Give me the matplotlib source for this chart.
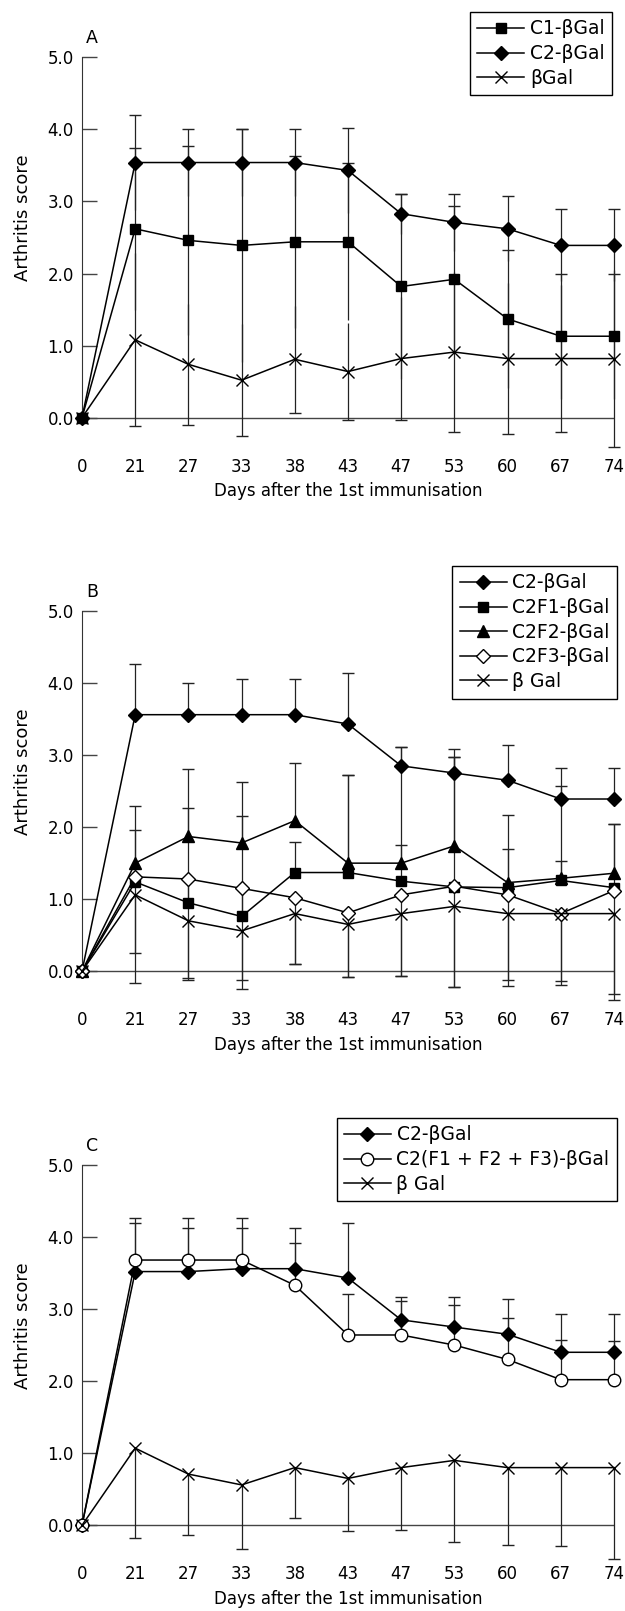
import matplotlib
matplotlib.use('Agg')
import matplotlib.pyplot as plt
import numpy as np

plt.rcParams['font.family'] = ['DejaVu Sans']

days = ['0', '21', '27', '33', '38', '43', '47', '53', '60', '67', '74']

# panel A
a_c1 = [0, 2.62, 2.46, 2.39, 2.44, 2.44, 1.82, 1.92, 1.37, 1.13, 1.13]
a_c1_sd = [0, 1.12, 1.31, 1.62, 1.19, 1.09, 1.29, 1.01, 0.96, 0.87, 0.87]
a_c2 = [0, 3.54, 3.54, 3.54, 3.54, 3.43, 2.83, 2.71, 2.62, 2.39, 2.39]
a_c2_sd = [0, 0.66, 0.46, 0.47, 0.47, 0.59, 0.28, 0.40, 0.45, 0.50, 0.50]
a_bgal = [0, 1.08, 0.74, 0.52, 0.81, 0.64, 0.82, 0.91, 0.82, 0.82, 0.82]
a_bgal_sd = [0, 1.20, 0.84, 0.78, 0.74, 0.67, 0.85, 1.11, 1.05, 1.02, 1.23]

# panel B
b_c2 = [0, 3.56, 3.56, 3.56, 3.56, 3.43, 2.85, 2.75, 2.65, 2.39, 2.39]
b_c2_sd = [0, 0.71, 0.44, 0.49, 0.49, 0.71, 0.26, 0.34, 0.49, 0.43, 0.43]
b_f1 = [0, 1.24, 0.95, 0.76, 1.37, 1.37, 1.25, 1.17, 1.16, 1.26, 1.16]
b_f1_sd = [0, 0.72, 1.31, 1.40, 0.43, 1.35, 0.50, 1.80, 0.53, 0.27, 0.89]
b_f2 = [0, 1.50, 1.87, 1.78, 2.09, 1.50, 1.50, 1.74, 1.23, 1.29, 1.36]
b_f2_sd = [0, 0.79, 0.94, 0.85, 0.80, 1.22, 1.61, 1.23, 0.94, 1.28, 0.69]
b_f3 = [0, 1.31, 1.28, 1.15, 1.02, 0.81, 1.06, 1.18, 1.06, 0.80, 1.12]
b_f3_sd = [0, 1.05, 1.38, 1.27, 0.92, 0.89, 1.13, 1.40, 1.18, 0.93, 1.43]
b_bgal = [0, 1.06, 0.70, 0.56, 0.80, 0.65, 0.80, 0.90, 0.80, 0.80, 0.80]
b_bgal_sd = [0, 1.22, 0.82, 0.81, 0.70, 0.73, 0.87, 1.12, 1.01, 0.99, 1.20]

# panel C
c_c2 = [0, 3.52, 3.52, 3.56, 3.56, 3.43, 2.85, 2.75, 2.65, 2.40, 2.40]
c_c2_sd = [0, 0.74, 0.75, 0.71, 0.56, 0.76, 0.32, 0.42, 0.49, 0.53, 0.53]
c_mix = [0, 3.68, 3.68, 3.68, 3.33, 2.64, 2.64, 2.50, 2.30, 2.02, 2.02]
c_mix_sd = [0, 0.51, 0.45, 0.45, 0.58, 0.57, 0.47, 0.55, 0.57, 0.55, 0.54]
c_bgal = [0, 1.07, 0.71, 0.56, 0.80, 0.65, 0.80, 0.90, 0.80, 0.80, 0.80]
c_bgal_sd = [0, 1.25, 0.84, 0.89, 0.70, 0.73, 0.86, 1.13, 1.07, 1.09, 1.27]

x = np.arange(len(days))
W, H = 625, 1611
fig = plt.figure(figsize=(W / 100, H / 100), dpi=100)


def series(ax, y, sd, marker, label, side, both=False, filled=True, ms=8):
    y = np.array(y)
    sd = np.array(sd)
    zero = np.zeros_like(sd)
    if both:
        err = [sd, sd]
    elif side > 0:
        err = [zero, sd]
    else:
        err = [sd, zero]
    ax.errorbar(x, y, yerr=err, fmt='none', ecolor='#222222', elinewidth=0.9,
                capsize=0, zorder=2, clip_on=False)
    # only one end of each bar carries a cap
    ax.plot(x[1:], (y + side * sd)[1:], linestyle='none', marker='_', ms=9,
            mew=1.0, color='#222222', zorder=2, clip_on=False)
    face = 'black' if filled else 'white'
    ax.plot(x, y, color='black', lw=1.1, marker=marker, ms=ms, mfc=face,
            mec='black', mew=1.0, label=label, zorder=3, clip_on=False)


def setup(ax, letter, top_px, legend_box):
    ax.set_xlim(0, 10)
    ax.set_ylim(-0.5, 5.0)
    for s in ['top', 'right', 'bottom']:
        ax.spines[s].set_visible(False)
    ax.spines['left'].set_bounds(0, 5)
    ax.spines['left'].set_color('#333333')
    ax.axhline(0, color='#444444', lw=1.0, zorder=1)
    ax.set_yticks([0, 1, 2, 3, 4, 5])
    ax.set_yticklabels(['0.0', '1.0', '2.0', '3.0', '4.0', '5.0'])
    ax.set_xticks(x)
    ax.set_xticklabels(days)
    ax.tick_params(axis='y', direction='in', length=10.5, width=1.0,
                   color='#444444', labelsize=12, pad=6)
    ax.tick_params(axis='x', length=0, labelsize=12, pad=3)
    ax.set_ylabel('Arthritis score', fontsize=13)
    ax.yaxis.set_label_coords(-0.094, 0.595)
    ax.set_xlabel('Days after the 1st immunisation', fontsize=12)
    ax.xaxis.set_label_coords(0.5, -0.072)
    fig.text(86 / W, 1 - (top_px - 19) / H, letter, fontsize=12.5,
             ha='left', va='center')
    ax.legend(loc='upper right', bbox_to_anchor=legend_box,
              bbox_transform=fig.transFigure, fontsize=13.5, frameon=True,
              fancybox=False, edgecolor='black', framealpha=1,
              handlelength=2.5, handletextpad=0.3, labelspacing=0.3,
              borderpad=0.4, borderaxespad=0)


left = 82 / W
width = 532 / W
ax_h = 396.4 / H

# A
axA = fig.add_axes([left, 1 - 453.7 / H, width, ax_h])
series(axA, a_c1, a_c1_sd, 's', 'C1-βGal', 1, both=True, ms=7.5)
series(axA, a_c2, a_c2_sd, 'D', 'C2-βGal', 1, both=True, ms=7)
series(axA, a_bgal, a_bgal_sd, 'x', 'βGal', -1, both=True, ms=8)
setup(axA, 'A', 57.3, (612 / W, 1 - 12 / H))

# B
axB = fig.add_axes([left, 1 - 1007.3 / H, width, ax_h])
series(axB, b_c2, b_c2_sd, 'D', 'C2-βGal', 1, ms=7)
series(axB, b_f1, b_f1_sd, 's', 'C2F1-βGal', 1, ms=7.5)
series(axB, b_f2, b_f2_sd, '^', 'C2F2-βGal', 1, ms=8)
series(axB, b_f3, b_f3_sd, 'D', 'C2F3-βGal', -1, filled=False, ms=7)
series(axB, b_bgal, b_bgal_sd, 'x', 'β Gal', -1, ms=8)
setup(axB, 'B', 611, (617 / W, 1 - 566 / H))

# C
axC = fig.add_axes([left, 1 - 1561.3 / H, width, ax_h])
series(axC, c_c2, c_c2_sd, 'D', 'C2-βGal', 1, ms=7)
series(axC, c_mix, c_mix_sd, 'o', 'C2(F1 + F2 + F3)-βGal', 1, filled=False, ms=9)
series(axC, c_bgal, c_bgal_sd, 'x', 'β Gal', -1, ms=8)
setup(axC, 'C', 1165, (617 / W, 1 - 1118 / H))

fig.savefig('out.png', dpi=100)
